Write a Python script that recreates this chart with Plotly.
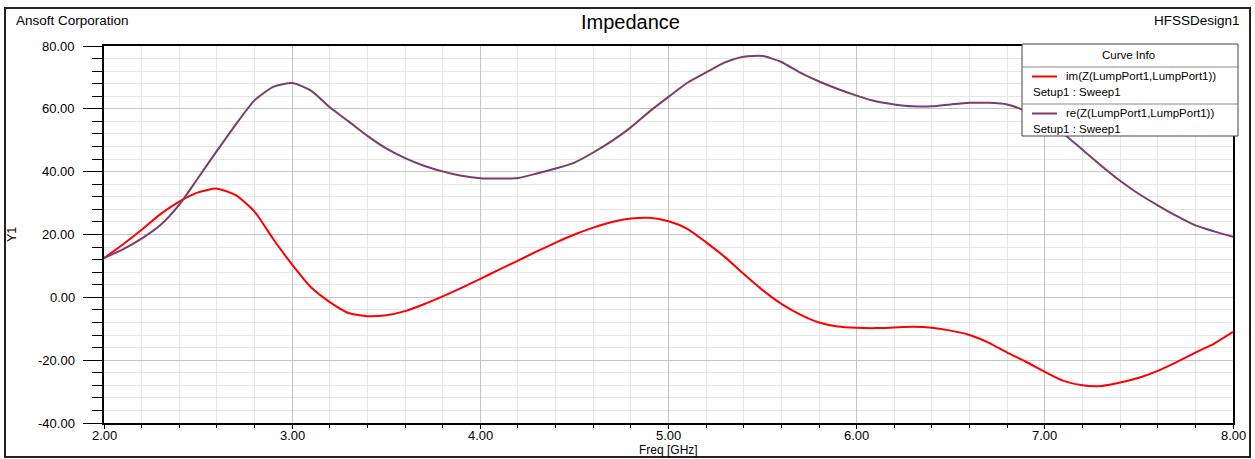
import plotly.graph_objects as go

# ---------------- data ----------------
freq_ghz = [2.0, 2.1, 2.2, 2.3, 2.4, 2.5, 2.6, 2.7, 2.8, 2.9,
            3.0, 3.1, 3.2, 3.3, 3.4, 3.5, 3.6, 3.7, 3.8, 3.9,
            4.0, 4.1, 4.2, 4.3, 4.4, 4.5, 4.6, 4.7, 4.8, 4.9,
            5.0, 5.1, 5.2, 5.3, 5.4, 5.5, 5.6, 5.7, 5.8, 5.9,
            6.0, 6.1, 6.2, 6.3, 6.4, 6.5, 6.6, 6.7, 6.8, 6.9,
            7.0, 7.1, 7.2, 7.3, 7.4, 7.5, 7.6, 7.7, 7.8, 7.9, 8.0]

im_z = [12.5, 16.8, 21.5, 26.5, 30.5, 33.4, 34.6, 32.5, 27.3, 18.5,
        10.4, 3.2, -1.5, -5.0, -6.0, -5.7, -4.4, -2.2, 0.3, 3.0,
        5.9, 8.8, 11.7, 14.6, 17.4, 20.0, 22.2, 24.0, 25.1, 25.3,
        24.2, 21.8, 17.5, 12.8, 7.4, 2.3, -2.1, -5.5, -8.0, -9.3,
        -9.7, -9.8, -9.6, -9.4, -9.7, -10.6, -12.0, -14.4, -17.6, -20.5,
        -23.7, -26.6, -28.0, -28.2, -27.1, -25.6, -23.4, -20.6, -17.6, -14.7, -11.0]

re_z = [12.5, 15.3, 18.7, 23.0, 29.5, 38.0, 46.6, 55.0, 62.7, 67.0,
        68.2, 65.8, 60.5, 56.0, 51.4, 47.4, 44.3, 41.9, 40.1, 38.7,
        37.9, 37.8, 38.0, 39.4, 41.0, 42.9, 46.1, 49.8, 54.1, 59.2,
        63.8, 68.3, 71.6, 74.8, 76.6, 76.8, 74.9, 71.5, 68.7, 66.3,
        64.2, 62.4, 61.4, 60.8, 60.8, 61.4, 61.9, 61.9, 61.4, 59.2,
        55.8, 52.0, 47.0, 41.9, 37.1, 32.9, 29.3, 25.9, 22.9, 21.0, 19.3]

x_tick_values = [2, 3, 4, 5, 6, 7, 8]
y_tick_values = [-40, -20, 0, 20, 40, 60, 80]

series_names = ["im(Z(LumpPort1,LumpPort1))", "re(Z(LumpPort1,LumpPort1))"]
series_sub = "Setup1 : Sweep1"
series_colors = ["#ff0000", "#7d3c6a"]

# ---------------- layout geometry (pixels) ----------------
W, H = 1255, 459
L, R, T, B = 104, 1233, 46, 423   # plot area in pixels


def px(x):
    return (x - L) / (R - L)


def py(y):
    return (B - y) / (B - T)


FONT = "Liberation Sans, Arial, sans-serif"

fig = go.Figure()
for name, vals, col in zip(series_names, [im_z, re_z], series_colors):
    fig.add_trace(go.Scatter(x=freq_ghz, y=vals, mode="lines", name=name,
                             line=dict(color=col, width=2, shape="spline", smoothing=0.6),
                             showlegend=False))

major_grid = "#c4c4c4"
minor_grid = "#e6e6e6"

fig.update_layout(
    width=W, height=H,
    margin=dict(l=L, r=W - R, t=T, b=H - B, pad=0),
    paper_bgcolor="white", plot_bgcolor="white",
    font=dict(family=FONT, size=13, color="black"),
)

fig.update_xaxes(
    range=[2, 8], tickvals=x_tick_values, showticklabels=False,
    showgrid=True, gridcolor=major_grid, gridwidth=1,
    ticks="outside", ticklen=4, tickcolor="black", tickwidth=1,
    showline=True, linecolor="black", linewidth=1.5, mirror=True,
    zeroline=False,
    minor=dict(dtick=0.2, tick0=2, showgrid=True, gridcolor=minor_grid, gridwidth=1,
               ticks="outside", ticklen=3, tickcolor="black", tickwidth=1),
)
fig.update_yaxes(
    range=[-40, 80], tickvals=y_tick_values, showticklabels=False,
    showgrid=True, gridcolor=major_grid, gridwidth=1,
    ticks="outside", ticklen=19, tickcolor="black", tickwidth=1,
    showline=True, linecolor="black", linewidth=1.5, mirror=True,
    zeroline=False,
    minor=dict(dtick=4, tick0=-40, showgrid=True, gridcolor=minor_grid, gridwidth=1,
               ticks="outside", ticklen=10, tickcolor="black", tickwidth=1),
)

shapes = []
# outer frame
shapes.append(dict(type="rect", xref="paper", yref="paper",
                   x0=px(5), x1=px(1250), y0=py(457), y1=py(8),
                   line=dict(color="#222222", width=2), fillcolor="rgba(0,0,0,0)",
                   layer="above"))
# legend box
LX0, LX1, LY0, LY1 = 1022, 1238, 44, 136
shapes.append(dict(type="rect", xref="paper", yref="paper",
                   x0=px(LX0), x1=px(LX1), y0=py(LY1), y1=py(LY0),
                   line=dict(color="#444444", width=1), fillcolor="white", layer="above"))
for sy in (67, 104):
    shapes.append(dict(type="line", xref="paper", yref="paper",
                       x0=px(LX0), x1=px(LX1), y0=py(sy), y1=py(sy),
                       line=dict(color="#888888", width=1), layer="above"))
row_line_y = [76.5, 113.5]
row_sub_y = [92, 129]
for col, ly in zip(series_colors, row_line_y):
    shapes.append(dict(type="line", xref="paper", yref="paper",
                       x0=px(1032), x1=px(1057), y0=py(ly), y1=py(ly),
                       line=dict(color=col, width=2), layer="above"))

annotations = []
# tick labels placed through the axes' own scales
for v in x_tick_values:
    annotations.append(dict(text=f"{v:.2f}", xref="x", yref="paper",
                            x=v, y=py(435.5), xanchor="center", yanchor="middle",
                            showarrow=False, font=dict(size=13, family=FONT)))
for v in y_tick_values:
    annotations.append(dict(text=f"{v:.2f}", xref="paper", yref="y",
                            x=px(77), y=v, xanchor="right", yanchor="middle",
                            showarrow=False, font=dict(size=13, family=FONT)))

annotations.append(dict(text="Impedance", xref="paper", yref="paper",
                        x=px(630), y=py(22), xanchor="center", yanchor="middle",
                        showarrow=False, font=dict(size=20, family=FONT)))
annotations.append(dict(text="Ansoft Corporation", xref="paper", yref="paper",
                        x=px(14), y=py(20), xanchor="left", yanchor="middle",
                        showarrow=False, font=dict(size=13.5, family=FONT)))
annotations.append(dict(text="HFSSDesign1", xref="paper", yref="paper",
                        x=px(1242), y=py(20), xanchor="right", yanchor="middle",
                        showarrow=False, font=dict(size=13.5, family=FONT)))
annotations.append(dict(text="Freq [GHz]", xref="paper", yref="paper",
                        x=px(668), y=py(449.5), xanchor="center", yanchor="middle",
                        showarrow=False, font=dict(size=12, family=FONT)))
annotations.append(dict(text="Y1", xref="paper", yref="paper",
                        x=px(12), y=py(235), xanchor="center", yanchor="middle",
                        textangle=-90, showarrow=False, font=dict(size=12.5, family=FONT)))
annotations.append(dict(text="Curve Info", xref="paper", yref="paper",
                        x=px(1128), y=py(55.5), xanchor="center", yanchor="middle",
                        showarrow=False, font=dict(size=11.5, family=FONT)))
for name, ly, sy in zip(series_names, row_line_y, row_sub_y):
    annotations.append(dict(text=name, xref="paper", yref="paper",
                            x=px(1064), y=py(ly), xanchor="left", yanchor="middle",
                            showarrow=False, font=dict(size=11.5, family=FONT)))
    annotations.append(dict(text=series_sub, xref="paper", yref="paper",
                            x=px(1031), y=py(sy), xanchor="left", yanchor="middle",
                            showarrow=False, font=dict(size=11.5, family=FONT)))

fig.update_layout(shapes=shapes, annotations=annotations)

fig.write_html("out.html")
